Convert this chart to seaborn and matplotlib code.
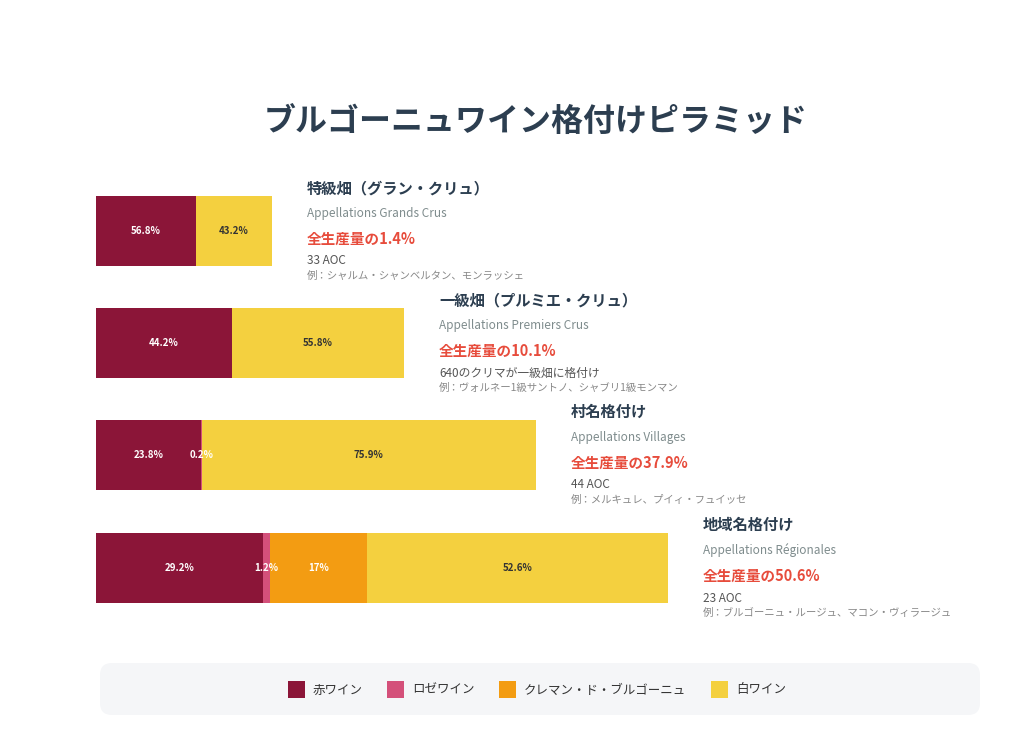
import matplotlib.pyplot as plt
from matplotlib.patches import FancyBboxPatch, Rectangle
import seaborn as sns

sns.set_theme(style='white')
plt.rcParams['font.family'] = ['Noto Sans CJK JP', 'DejaVu Sans']

# data
tiers = ['特級畑（グラン・クリュ）', '一級畑（プルミエ・クリュ）', '村名格付け', '地域名格付け']
tiers_fr = ['Appellations Grands Crus', 'Appellations Premiers Crus',
            'Appellations Villages', 'Appellations Régionales']
share = ['1.4%', '10.1%', '37.9%', '50.6%']
aoc = ['33 AOC', '640のクリマが一級畑に格付け', '44 AOC', '23 AOC']
examples = ['例：シャルム・シャンベルタン、モンラッシェ',
            '例：ヴォルネー1級サントノ、シャブリ1級モンマン',
            '例：メルキュレ、プイィ・フュイッセ',
            '例：ブルゴーニュ・ルージュ、マコン・ヴィラージュ']
wine_types = ['赤ワイン', 'ロゼワイン', 'クレマン・ド・ブルゴーニュ', '白ワイン']
red = [56.8, 44.2, 23.8, 29.2]
rose = [0, 0, 0.2, 1.2]
cremant = [0, 0, 0, 17]
white = [43.2, 55.8, 75.9, 52.6]

colors = ['#8b1538', '#d4507a', '#f39c12', '#f4d03f']
text_colors = ['white', 'white', 'white', '#333333']
bar_px = [176, 308, 440, 572]
bar_x0 = 96
bar_y = [231, 343, 455, 568]
bar_h = 70

fig = plt.figure(figsize=(10.24, 7.43), dpi=100)
ax = fig.add_axes([0, 0, 1, 1])
ax.set_xlim(0, 1024)
ax.set_ylim(743, 0)
ax.axis('off')

ax.text(536, 123, 'ブルゴーニュワイン格付けピラミッド', ha='center', va='center',
        fontsize=23, fontweight='bold', color='#2c3e50')

series = [red, rose, cremant, white]
for i in range(len(tiers)):
    scale = bar_px[i] / 100
    left = bar_x0
    for s, vals in enumerate(series):
        v = vals[i]
        if v <= 0:
            continue
        w = v * scale
        ax.barh(bar_y[i], w, left=left, height=bar_h, color=colors[s], edgecolor='none')
        lbl = f'{v:g}%'
        t = ax.text(left + w / 2, bar_y[i], lbl, ha='center', va='center',
                    fontsize=7, fontweight='bold', color=text_colors[s])
        clip = Rectangle((bar_x0, bar_y[i] - bar_h / 2), left + w - bar_x0, bar_h,
                         transform=ax.transData)
        t.set_clip_path(clip)
        left += w
    tx = bar_x0 + bar_px[i] + 35
    ty = bar_y[i] - 43
    ax.text(tx, ty, tiers[i], fontsize=11, fontweight='bold', color='#2c3e50', va='center')
    ax.text(tx, ty + 25, tiers_fr[i], fontsize=8.5, color='#7f8c8d', va='center')
    ax.text(tx, ty + 51, '全生産量の' + share[i], fontsize=10.5, fontweight='bold',
            color='#e74c3c', va='center')
    ax.text(tx, ty + 73, aoc[i], fontsize=8.5, color='#555555', va='center')
    ax.text(tx, ty + 88, examples[i], fontsize=7.5, color='#888888', style='italic', va='center')

# legend band
ax.add_patch(FancyBboxPatch((100, 663), 880, 52, boxstyle='round,pad=0,rounding_size=12',
                            facecolor='#f5f6f8', edgecolor='none'))
leg_x = [288, 387, 499, 711]
for x, c, name in zip(leg_x, colors, wine_types):
    ax.add_patch(Rectangle((x, 681), 17, 17, facecolor=c, edgecolor='none'))
    ax.text(x + 25, 690, name, fontsize=9, color='#333333', va='center')

fig.savefig('out.png', dpi=100)
